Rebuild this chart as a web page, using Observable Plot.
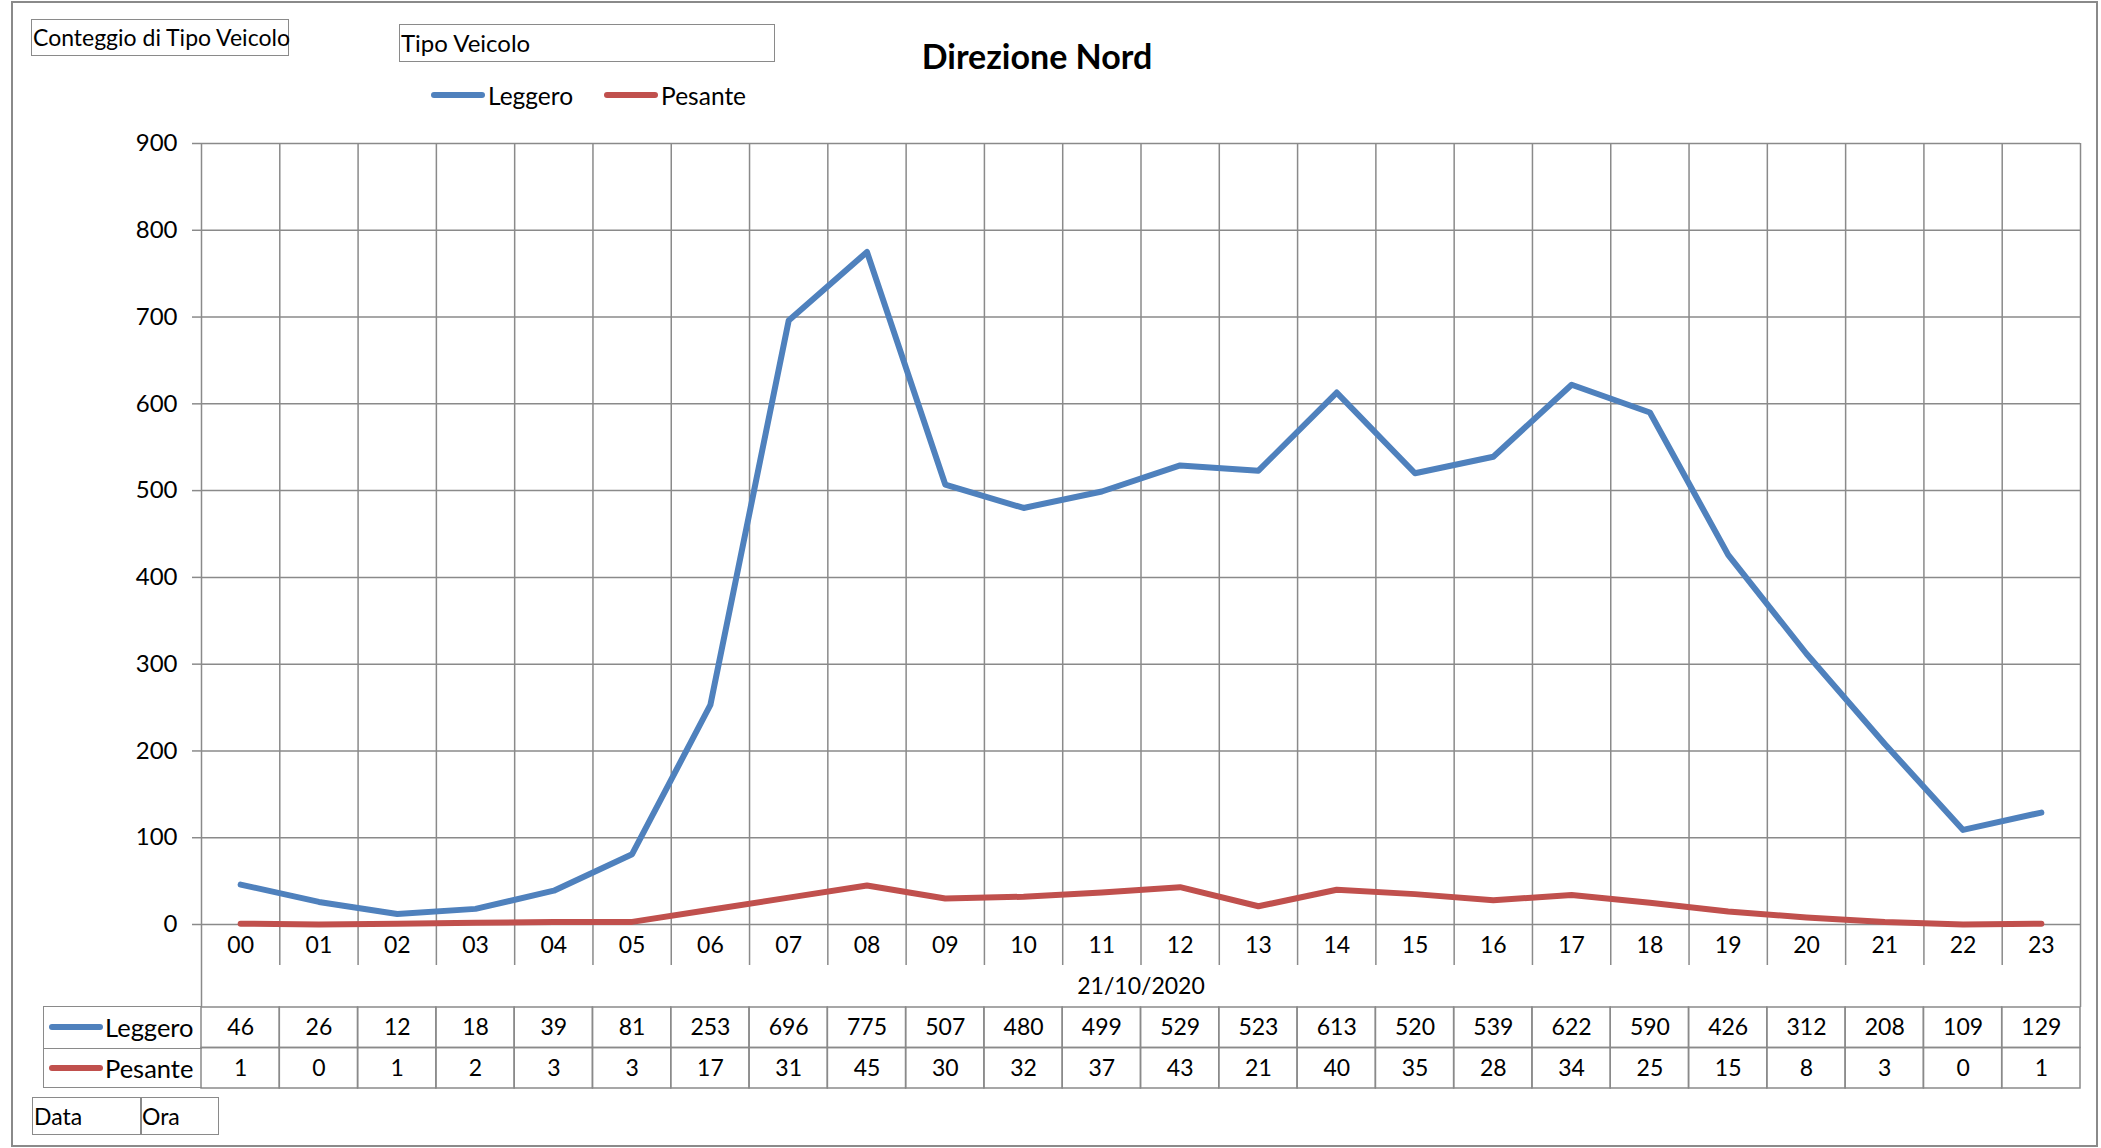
<!DOCTYPE html>
<html>
<head>
<meta charset="utf-8">
<script src="https://cdn.jsdelivr.net/npm/d3@7"></script>
<script src="https://cdn.jsdelivr.net/npm/@observablehq/plot@0.6"></script>
<style>
  html, body { margin: 0; padding: 0; background: #fff; }
  #page { position: relative; width: 2101px; height: 1148px; font-family: Lato, "Noto Sans", sans-serif; color: #000; overflow: hidden; }
  .abs { position: absolute; box-sizing: border-box; }
  .box { border: 1.5px solid #8a8a8a; font-size: 23px; line-height: 1; display: flex; align-items: center; padding-left: 1px; white-space: nowrap; }
  .sw { display: inline-block; height: 6px; border-radius: 3px; vertical-align: middle; }
</style>
</head>
<body>
<div id="page"></div>
<script>
// ---- data ----
const hours = ["00","01","02","03","04","05","06","07","08","09","10","11","12","13","14","15","16","17","18","19","20","21","22","23"];
const leggero = [46,26,12,18,39,81,253,696,775,507,480,499,529,523,613,520,539,622,590,426,312,208,109,129];
const pesante = [1,0,1,2,3,3,17,31,45,30,32,37,43,21,40,35,28,34,25,15,8,3,0,1];
const seriesNames = ["Leggero","Pesante"];
const seriesColors = ["#4F81BD","#C0504D"];
const yTicks = [0,100,200,300,400,500,600,700,800,900];
const dateLabel = "21/10/2020";
const titleText = "Direzione Nord";

const seriesValues = [leggero, pesante];
const lineData = seriesNames.flatMap((s, si) => hours.map((h, i) => ({series: s, idx: i, hour: h, value: seriesValues[si][i]})));
const cells = seriesNames.flatMap((s, si) => hours.map((h, i) => ({row: si, x1: i, x2: i + 1, value: seriesValues[si][i]})));

const page = document.getElementById("page");
const grid = "#8a8a8a";
const W = 2101;
const mL = 201, mR = 21;
const font = "Lato, 'Noto Sans', sans-serif";

// outer border
const outer = document.createElement("div");
outer.className = "abs";
Object.assign(outer.style, {left: "11px", top: "1px", width: "2087px", height: "1146px", border: "2px solid " + grid});
page.appendChild(outer);

// main chart
const chart = Plot.plot({
  width: W,
  height: 1007,
  marginTop: 143,
  marginBottom: 83,
  marginLeft: mL,
  marginRight: mR,
  style: {fontFamily: font, fontSize: "23px", color: "#000", background: "transparent", overflow: "visible"},
  x: {domain: [0, hours.length]},
  y: {domain: [0, 900], nice: false},
  color: {domain: seriesNames, range: seriesColors},
  marks: [
    Plot.gridY(yTicks, {stroke: grid, strokeOpacity: 1, strokeWidth: 1.5}),
    Plot.ruleX(d3.range(hours.length + 1), {y1: 0, y2: 900, stroke: grid, strokeWidth: 1.5}),
    Plot.axisY(yTicks, {tickSize: 9, tickPadding: 15, stroke: grid, strokeWidth: 1.5, label: null, fontSize: 24, tickFormat: d => String(d)}),
    Plot.axisX(d3.range(1, hours.length), {tickSize: 41, tickFormat: () => "", stroke: grid, strokeWidth: 1.5, label: null}),
    Plot.axisX([0, hours.length], {tickSize: 83, tickFormat: () => "", stroke: grid, strokeWidth: 1.5, label: null}),
    Plot.axisX(hours.map((h, i) => i + 0.5), {tickSize: 0, tickPadding: 12, tickFormat: d => hours[Math.floor(d)], label: null}),
    Plot.text([dateLabel], {frameAnchor: "bottom", text: d => d, dy: 69, fontSize: 23}),
    Plot.line(lineData, {x: d => d.idx + 0.5, y: "value", z: "series", stroke: "series", strokeWidth: 6, strokeLinejoin: "round", strokeLinecap: "round"})
  ]
});
chart.classList.add("abs");
chart.style.left = "0px";
chart.style.top = "0px";
page.appendChild(chart);

// data table
const table = Plot.plot({
  width: W,
  height: 84,
  marginTop: 0,
  marginBottom: 0,
  marginLeft: mL,
  marginRight: mR,
  style: {fontFamily: font, fontSize: "23px", color: "#000", background: "transparent", overflow: "visible"},
  x: {domain: [0, hours.length], axis: null},
  y: {domain: [0, 2], range: [1, 82], axis: null},
  marks: [
    Plot.rect(cells, {x1: "x1", x2: "x2", y1: "row", y2: d => d.row + 1, fill: "none", stroke: grid, strokeWidth: 1.5}),
    Plot.text(cells, {x: d => d.x1 + 0.5, y: d => d.row + 0.5, text: d => String(d.value), fontSize: 23})
  ]
});
table.classList.add("abs");
table.style.left = "0px";
table.style.top = "1006px";
page.appendChild(table);

// table label column
const lab = document.createElement("div");
lab.className = "abs";
Object.assign(lab.style, {left: "43px", top: "1006px", width: "159px", height: "82px", border: "1.5px solid " + grid, borderRight: "none"});
seriesNames.forEach((s, i) => {
  const r = document.createElement("div");
  r.className = "abs";
  Object.assign(r.style, {left: "0px", top: (i * 40.5) + "px", width: "158px", height: "40.5px", display: "flex", alignItems: "center", fontSize: "25.5px", borderTop: i ? "1.5px solid " + grid : "none"});
  r.innerHTML = `<span class="sw" style="width:54px;margin-left:5px;margin-right:2px;background:${seriesColors[i]}"></span><span>${s}</span>`;
  lab.appendChild(r);
});
page.appendChild(lab);

// boxes
function box(text, l, t, w, h, extra) {
  const b = document.createElement("div");
  b.className = "abs box";
  Object.assign(b.style, {left: l + "px", top: t + "px", width: w + "px", height: h + "px"}, extra || {});
  b.textContent = text;
  page.appendChild(b);
}
box("Conteggio di Tipo Veicolo", 31, 19, 258, 37);
box("Tipo Veicolo", 399, 24, 376, 38, {fontSize: "24px"});
box("Data", 32, 1097, 110, 38);
box("Ora", 140, 1097, 79, 38);

// title
const title = document.createElement("div");
title.className = "abs";
Object.assign(title.style, {left: "837px", top: "39px", width: "400px", textAlign: "center", fontWeight: "bold", fontSize: "34px", lineHeight: "1"});
title.textContent = titleText;
page.appendChild(title);

// legend
const leg = document.createElement("div");
leg.className = "abs";
Object.assign(leg.style, {left: "431px", top: "82px", height: "26px", display: "flex", alignItems: "center", fontSize: "24.5px", whiteSpace: "nowrap"});
leg.innerHTML = seriesNames.map((s, i) => `<span class="sw" style="width:54px;margin-right:3px;background:${seriesColors[i]}"></span><span style="margin-right:${i ? 0 : 31}px">${s}</span>`).join("");
page.appendChild(leg);
</script>
</body>
</html>
